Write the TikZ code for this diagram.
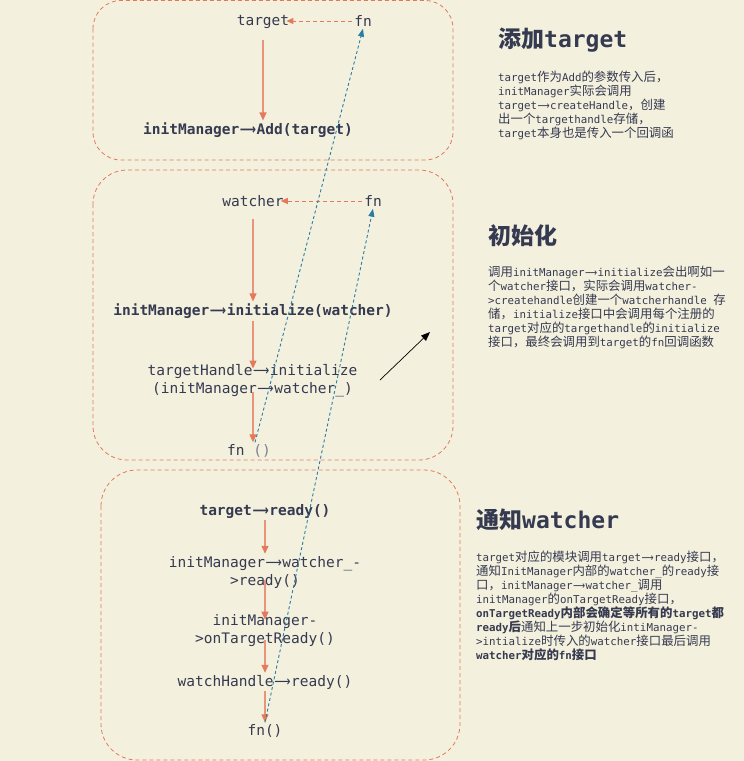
\documentclass[tikz,border=0pt]{standalone}
\usepackage{fontspec}
\usepackage{graphicx}
\setmainfont{DejaVu Sans Mono}
\newfontfamily\zhfont[Scale=1.15]{Noto Sans CJK SC}
\newfontfamily\zhtfont{Noto Sans CJK SC}
\newfontfamily\arrfont{DejaVu Sans}
\usetikzlibrary{arrows.meta}
\definecolor{bg}{HTML}{F3F0DE}
\definecolor{ink}{HTML}{363A50}
\definecolor{org}{HTML}{E4795C}
\definecolor{orgl}{HTML}{E8957C}
\definecolor{blu}{HTML}{2A7EA6}
\newcommand\zh[1]{{\zhfont #1}}
\newcommand\zt[1]{{\zhtfont #1}}
\newcommand\ligarr{\makebox[1.204em]{\resizebox{1.12em}{\height}{\arrfont ⟶}}}
\tikzset{
  frame/.style={draw=org, line width=0.8pt, dash pattern=on 4pt off 3pt, rounded corners=#1},
  lab/.style={text=ink, font=\fontsize{14.5}{18}\selectfont, align=center, inner sep=2pt},
  blab/.style={text=ink, font=\fontsize{14.5}{18}\selectfont\bfseries, align=center, inner sep=2pt},
  flow/.style={draw=orgl, line width=1.2pt, -{Triangle[length=8pt,width=7pt,color=org]}},
  odash/.style={draw=org, line width=1pt, dash pattern=on 4pt off 3pt, -{Triangle[length=7pt,width=6pt]}, shorten >=-5pt},
  bdash/.style={draw=blu, line width=0.9pt, dash pattern=on 3pt off 2.5pt, -{Triangle[length=8pt,width=6pt]}},
  ttl/.style={text=ink, font=\fontsize{23}{28}\selectfont\bfseries, anchor=west, inner sep=0pt},
  body/.style={text=ink, font=\fontsize{10.8}{14}\selectfont, align=left, anchor=north west, inner sep=0pt},
}
\begin{document}
\begin{tikzpicture}[x=1pt,y=-1pt]
\fill[bg] (0,0) rectangle (744,761);
\useasboundingbox (0,0) rectangle (744,761);

% frames
\draw[frame=28pt] (93,0.5) rectangle (453,160);
\draw[frame=34pt] (93,170) rectangle (453,460);
\draw[frame=36pt] (101,470) rectangle (460,760);

% box 1
\node[lab]  (t1) at (263,22) {target};
\node[lab]  (f1) at (363,21) {fn};
\node[blab] (a1) at (248,130) {initManager\ligarr Add(target)};

% box 2
\node[lab]  (w2) at (253,201) {watcher};
\node[lab]  (f2) at (373,201) {fn};
\node[blab] (i2) at (253,311) {initManager\ligarr initialize(watcher)};
\node[lab]  (h2) at (252.5,381) {targetHandle\ligarr initialize\\(initManager\ligarr watcher\_)};
\node[lab]  (fn2) at (249,451) {fn {\color{ink!65}()}};

% box 3
\node[blab] (r3) at (265,511) {target\ligarr ready()};
\node[lab]  (m3) at (265,572) {initManager\ligarr watcher\_-\\>ready()};
\node[lab]  (o3) at (265,631) {initManager-\\>onTargetReady()};
\node[lab]  (wh3) at (265,682) {watchHandle\ligarr ready()};
\node[lab]  (fn3) at (265,731) {fn()};

% arrows box 1
\draw[odash] (f1.west) -- (f1.west -| t1.east);
\draw[flow, shorten <=9pt] (t1.south) -- (t1.south |- a1.north);

% arrows box 2
\draw[odash] (f2.west) -- (w2.east);
\draw[flow, shorten <=10pt] (w2.south) -- (w2.south |- i2.north);
\draw[flow, shorten >=-6pt] (i2.south) -- (i2.south |- h2.north);
\draw[flow, shorten <=-7pt] (i2.south |- h2.south) -- (i2.south |- fn2.north);

% arrows box 3
\draw[flow] (r3.south) -- (r3.south |- m3.north);
\draw[flow, shorten <=-10pt, shorten >=-7pt] (m3.south) -- (m3.south |- o3.north);
\draw[flow, shorten <=-9pt] (o3.south) -- (o3.south |- wh3.north);
\draw[flow] (wh3.south) -- (wh3.south |- fn3.north);

% blue callbacks
\draw[bdash] ([xshift=6pt]fn2.north) -- (f1.south);
\draw[bdash] (fn3.north) -- (f2.south);

% black arrow
\coordinate (k1) at (380,380);
\coordinate (k2) at (430,332);
\draw[line width=0.7pt, -{Triangle[length=9pt,width=7pt]}] (k1) -- (k2);

% right texts
\node[ttl] (T1) at (498,40) {\zt{添加}target};
\node[body] (B1) at (498,71) {target\zh{作为}Add\zh{的参数传入后，}\\
initManager\zh{实际会调用}\\
target\ligarr createHandle\zh{，创建}\\
\zh{出一个}targethandle\zh{存储，}\\
target\zh{本身也是传入一个回调函}};

\node[ttl] (T2) at (488,236) {\zt{初始化}};
\node[body] (B2) at (488,266) {\zh{调用}initManager\ligarr initialize\zh{会出啊如一}\\
\zh{个}watcher\zh{接口，实际会调用}watcher-\\
>createhandle\zh{创建一个}watcherhandle \zh{存}\\
\zh{储，}initialize\zh{接口中会调用每个注册的}\\
target\zh{对应的}targethandle\zh{的}initialize\\
\zh{接口，最终会调用到}target\zh{的}fn\zh{回调函数}};

\node[ttl] (T3) at (476,520) {\zt{通知}watcher};
\node[body] (B3) at (476,551) {target\zh{对应的模块调用}target\ligarr ready\zh{接口，}\\
\zh{通知}InitManager\zh{内部的}watcher\_\zh{的}ready\zh{接}\\
\zh{口，}initManager\ligarr watcher\_\zh{调用}\\
initManager\zh{的}onTargetReady\zh{接口，}\\
{\bfseries onTargetReady\zh{内部会确定等所有的}target\zh{都}}\\
{\bfseries ready\zh{后}}\zh{通知上一步初始化}intiManager-\\
>intialize\zh{时传入的}watcher\zh{接口最后调用}\\
{\bfseries watcher\zh{对应的}fn\zh{接口}}};
\end{tikzpicture}
\end{document}
